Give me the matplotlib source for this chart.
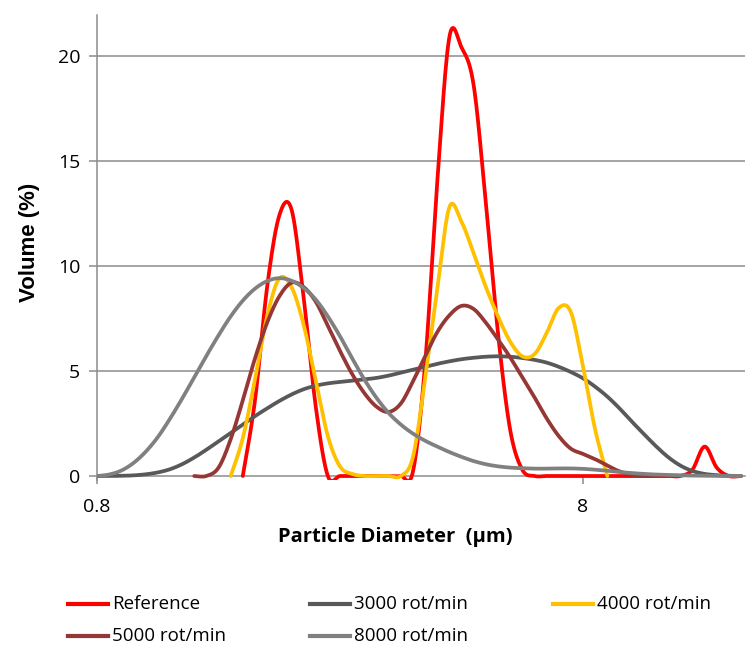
import numpy as np
import matplotlib
matplotlib.use("Agg")
import matplotlib.pyplot as plt
from matplotlib.lines import Line2D

# ---------------- data ----------------
diameter_um = [0.8, 0.847, 0.898, 0.951, 1.007, 1.067, 1.130, 1.197, 1.268, 1.343,
               1.423, 1.507, 1.596, 1.691, 1.791, 1.897, 2.010, 2.129, 2.255, 2.388,
               2.530, 2.680, 2.838, 3.007, 3.185, 3.374, 3.573, 3.785, 4.010, 4.247,
               4.499, 4.765, 5.048, 5.347, 5.664, 5.999, 6.355, 6.731, 7.130, 7.552,
               8.000, 8.474, 8.976, 9.508, 10.07, 10.67, 11.30, 11.97, 12.68, 13.43,
               14.23, 15.07, 15.96, 16.91]

N = None
reference = [N, N, N, N, N, N, N, N, N, N,
             N, N, 0, 3.6, 9.0, 12.4, 12.7, 8.5, 3.3, 0,
             0, 0, 0, 0, 0, 0, 0.2, 5.3, 14.0, 20.9,
             20.4, 18.6, 13.0, 6.8, 2.2, 0.3, 0, 0, 0, 0,
             0, 0, 0, 0, 0, 0, 0, 0, 0, 0.3,
             1.4, 0.4, 0, 0]
rpm3000 = [0, 0, 0.01, 0.03, 0.08, 0.17, 0.32, 0.56, 0.88, 1.25,
           1.65, 2.05, 2.45, 2.85, 3.22, 3.57, 3.88, 4.13, 4.3, 4.41,
           4.48, 4.54, 4.6, 4.67, 4.78, 4.92, 5.06, 5.2, 5.34, 5.46,
           5.56, 5.63, 5.68, 5.7, 5.68, 5.62, 5.53, 5.4, 5.2, 4.95,
           4.65, 4.25, 3.78, 3.22, 2.6, 2.0, 1.42, 0.9, 0.5, 0.24,
           0.1, 0.04, 0.01, 0]
rpm4000 = [N, N, N, N, N, N, N, N, N, N,
           N, 0, 1.8, 4.6, 7.6, 9.4, 9.0, 7.2, 4.55, 1.9,
           0.45, 0.1, 0, 0, 0, 0, 0.9, 4.6, 8.9, 12.8,
           12.1, 10.6, 9.0, 7.6, 6.4, 5.7, 5.8, 6.8, 8.0, 7.8,
           5.2, 2.2, 0, N, N, N, N, N, N, N,
           N, N, N, N]
rpm5000 = [N, N, N, N, N, N, N, N, 0, 0,
           0.4, 1.75, 3.6, 5.6, 7.3, 8.55, 9.2, 9.0, 8.3, 7.15,
           5.95, 4.85, 3.95, 3.3, 3.05, 3.45, 4.5, 5.7, 6.85, 7.65,
           8.1, 7.95, 7.3, 6.5, 5.65, 4.7, 3.75, 2.75, 1.9, 1.3,
           1.05, 0.8, 0.5, 0.22, 0.07, 0, 0, N, N, N,
           N, N, N, N]
rpm8000 = [0, 0.07, 0.26, 0.62, 1.15, 1.85, 2.72, 3.68, 4.7, 5.72,
           6.7, 7.6, 8.35, 8.92, 9.28, 9.42, 9.3, 8.95, 8.4, 7.6,
           6.65, 5.6, 4.6, 3.72, 3.0, 2.45, 2.02, 1.68, 1.4, 1.14,
           0.91, 0.71, 0.56, 0.46, 0.4, 0.37, 0.35, 0.35, 0.36, 0.36,
           0.34, 0.3, 0.25, 0.19, 0.14, 0.1, 0.07, 0.05, 0.03, 0.02,
           0.01, 0, 0, 0]

series_names = ["Reference", "3000 rot/min", "4000 rot/min", "5000 rot/min", "8000 rot/min"]
series_values = [reference, rpm3000, rpm4000, rpm5000, rpm8000]
series_colors = ["#FF0000", "#595959", "#FFC000", "#953735", "#808080"]

x_ticks = [0.8, 8]
x_tick_labels = ["0.8", "8"]
y_ticks = [0, 5, 10, 15, 20]


def smooth_curve(xs, ys, n=24):
    """Excel-like smoothed line (Catmull-Rom Bezier) in log-x space."""
    lx = np.log10(np.asarray(xs, float))
    y = np.asarray(ys, float)
    P = np.column_stack([lx, y])
    m = len(P)
    out = []
    t = np.linspace(0, 1, n)[:, None]
    for i in range(m - 1):
        p0 = P[i - 1] if i > 0 else P[i]
        p1, p2 = P[i], P[i + 1]
        p3 = P[i + 2] if i + 2 < m else P[i + 1]
        c1 = p1 + (p2 - p0) / 6.0
        c2 = p2 - (p3 - p1) / 6.0
        seg = ((1 - t) ** 3) * p1 + 3 * ((1 - t) ** 2) * t * c1 + 3 * (1 - t) * t ** 2 * c2 + t ** 3 * p2
        out.append(seg if i == 0 else seg[1:])
    out = np.vstack(out)
    return 10 ** out[:, 0], out[:, 1]


W, H = 747, 650
fig = plt.figure(figsize=(W / 100, H / 100), dpi=100)
left, right, top, bottom = 97, 745, 15, 480.2
ax = fig.add_axes([left / W, 1 - bottom / H, (right - left) / W, (bottom - top) / H])

grid_col = "#8C8C8C"
ax.set_xscale("log")
ax.set_xlim(0.8, 17.23)
ax.set_ylim(-0.2, 21.95)

for yv in y_ticks[1:]:
    ax.axhline(yv, color=grid_col, lw=1.1, zorder=0)

for name, vals, col in zip(series_names, series_values, series_colors):
    xs = [d for d, v in zip(diameter_um, vals) if v is not None]
    ys = [v for v in vals if v is not None]
    sx, sy = smooth_curve(xs, ys)
    ax.plot(sx, sy, color=col, lw=2.7, solid_capstyle="round", solid_joinstyle="round", zorder=3)

for s in ["top", "right"]:
    ax.spines[s].set_visible(False)
ax.spines["left"].set_color(grid_col)
ax.spines["left"].set_linewidth(1.1)
ax.spines["bottom"].set_color(grid_col)
ax.spines["bottom"].set_linewidth(1.1)
ax.spines["bottom"].set_position(("data", 0))
ax.spines["bottom"].set_zorder(1)

tick_font = "Open Sans"
ax.set_xticks(x_ticks)
ax.set_xticklabels(x_tick_labels)
ax.xaxis.set_minor_locator(matplotlib.ticker.NullLocator())
ax.set_yticks(y_ticks)
ax.set_yticklabels([str(v) for v in y_ticks])
ax.tick_params(axis="both", colors=grid_col, labelcolor="black", labelsize=14,
               width=1.1, length=6, direction="out")
ax.tick_params(axis="x", pad=10)
ax.tick_params(axis="y", pad=6)
for lab in ax.get_xticklabels() + ax.get_yticklabels():
    lab.set_family(tick_font)

fig.text(30 / W, 1 - 242 / H, "Volume (%)", rotation=90, ha="center", va="center",
         fontsize=16, fontweight="bold", family="Liberation Sans")
fig.text(395 / W, 1 - 537 / H, "Particle Diameter  (\u03bcm)", ha="center", va="center",
         fontsize=14.5, fontweight="bold", family="Open Sans")

# legend (row-wise, three columns)
leg_pos = [(68, 604), (310, 604), (553, 604), (68, 636), (310, 636)]
for (lx, ly), name, col in zip(leg_pos, series_names, series_colors):
    fig.add_artist(Line2D([lx / W, (lx + 40) / W], [1 - ly / H, 1 - ly / H],
                          transform=fig.transFigure, color=col, lw=3.0))
    fig.text((lx + 44) / W, 1 - ly / H, name, ha="left", va="center",
             fontsize=13.5, family=tick_font)

fig.savefig("out.png", dpi=100)
